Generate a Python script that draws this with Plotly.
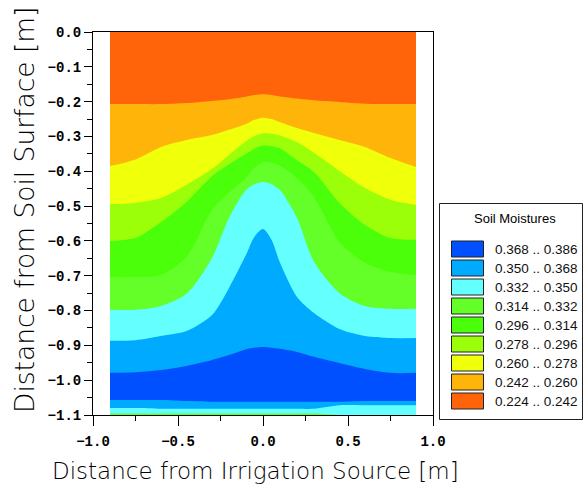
import plotly.graph_objects as go

# ---- data ----
XS = [-0.9, -0.75, -0.6, -0.45, -0.3, -0.2, -0.1, -0.05, 0.0, 0.05, 0.1, 0.2, 0.3, 0.45, 0.6, 0.75, 0.9]
B_242 = [-0.207, -0.207, -0.207, -0.204, -0.198, -0.193, -0.186, -0.181, -0.179, -0.181, -0.185, -0.191, -0.196, -0.201, -0.206, -0.207, -0.207]
B_260 = [-0.385, -0.366, -0.330, -0.310, -0.296, -0.281, -0.264, -0.252, -0.246, -0.250, -0.259, -0.276, -0.290, -0.310, -0.330, -0.362, -0.388]
B_278 = [-0.494, -0.491, -0.477, -0.439, -0.393, -0.353, -0.314, -0.299, -0.291, -0.292, -0.297, -0.316, -0.347, -0.399, -0.448, -0.482, -0.497]
B_296 = [-0.600, -0.592, -0.546, -0.488, -0.414, -0.380, -0.350, -0.335, -0.326, -0.328, -0.334, -0.368, -0.402, -0.491, -0.554, -0.592, -0.597]
B_314 = [-0.704, -0.704, -0.698, -0.646, -0.511, -0.462, -0.419, -0.390, -0.374, -0.376, -0.384, -0.419, -0.474, -0.603, -0.663, -0.689, -0.698]
B_332 = [-0.798, -0.798, -0.787, -0.752, -0.649, -0.534, -0.454, -0.437, -0.431, -0.437, -0.454, -0.534, -0.660, -0.750, -0.787, -0.795, -0.795]
B_350 = [-0.887, -0.885, -0.873, -0.859, -0.813, -0.735, -0.640, -0.588, -0.566, -0.597, -0.663, -0.761, -0.807, -0.853, -0.873, -0.879, -0.879]
B_368 = [-0.979, -0.977, -0.971, -0.959, -0.942, -0.928, -0.911, -0.907, -0.905, -0.907, -0.910, -0.919, -0.933, -0.951, -0.968, -0.979, -0.979]
B_368_LOW = [-1.057, -1.057, -1.057, -1.060, -1.062, -1.062, -1.062, -1.062, -1.062, -1.062, -1.062, -1.062, -1.062, -1.062, -1.060, -1.060, -1.060]
B_350_LOW = [-1.080, -1.080, -1.082, -1.082, -1.082, -1.082, -1.082, -1.082, -1.082, -1.082, -1.082, -1.082, -1.082, -1.072, -1.072, -1.072, -1.072]
B_332_LOW = [-1.096, -1.096, -1.096, -1.096, -1.096, -1.096, -1.096, -1.096, -1.096, -1.096, -1.096, -1.096, -1.096, -1.100, -1.100, -1.100, -1.100]
BOTTOM = [-1.1] * 17

LEVELS = [0.224, 0.242, 0.260, 0.278, 0.296, 0.314, 0.332, 0.350, 0.368, 0.386]
COLORS = ["#FF640A", "#FFB40A", "#F0FF0A", "#9BFF0A", "#4BFF0A", "#64FF28", "#64FFFF", "#00AAFF", "#0050FF"]

# layers drawn from the deepest up: (lower boundary, class index); each fills up to the surface
LAYERS = [(BOTTOM, 5), (B_332_LOW, 6), (B_350_LOW, 7), (B_368_LOW, 8), (B_368, 7), (B_350, 6),
          (B_332, 5), (B_314, 4), (B_296, 3), (B_278, 2), (B_260, 1), (B_242, 0)]

X_TICKS = [-1.0, -0.5, 0.0, 0.5, 1.0]
X_TICKTEXT = ["\u22121.0", "\u22120.5", "0.0", "0.5", "1.0"]
Y_TICKS = [0.0, -0.1, -0.2, -0.3, -0.4, -0.5, -0.6, -0.7, -0.8, -0.9, -1.0, -1.1]
Y_TICKTEXT = ["0.0", "\u22120.1", "\u22120.2", "\u22120.3", "\u22120.4", "\u22120.5", "\u22120.6",
              "\u22120.7", "\u22120.8", "\u22120.9", "\u22121.0", "\u22121.1"]

W, H = 583, 488
ML, MR, MT, MB = 93, 150, 32, 73
PW, PH = W - ML - MR, H - MT - MB


def px2x(px):
    return (px - ML) / PW


def py2y(py):
    return (H - MB - py) / PH


fig = go.Figure()
for lower, k in LAYERS:
    fig.add_trace(go.Scatter(
        x=XS, y=lower, mode="lines", fill="tozeroy", fillcolor=COLORS[k],
        line=dict(width=0, color=COLORS[k], shape="spline", smoothing=0.8),
        hoverinfo="skip", showlegend=False))

shapes = []
annotations = []
# legend box
shapes.append(dict(type="rect", xref="paper", yref="paper",
                   x0=px2x(439.5), x1=px2x(582.5), y0=py2y(419.5), y1=py2y(203.5),
                   line=dict(color="#222222", width=1), fillcolor="white", layer="above"))
annotations.append(dict(text="Soil Moistures", xref="paper", yref="paper",
                        x=px2x(515), y=py2y(218), xanchor="center", yanchor="middle",
                        showarrow=False, font=dict(family="Liberation Sans", size=13, color="black")))
for i, k in enumerate(range(len(COLORS) - 1, -1, -1)):
    cy = 249 + 19 * i
    shapes.append(dict(type="rect", xref="paper", yref="paper",
                       x0=px2x(451.5), x1=px2x(483.5), y0=py2y(cy + 8), y1=py2y(cy - 8),
                       line=dict(color="#222222", width=1), fillcolor=COLORS[k], layer="above"))
    annotations.append(dict(text=f"{LEVELS[k]:.3f} .. {LEVELS[k + 1]:.3f}", xref="paper", yref="paper",
                            x=px2x(493), y=py2y(cy), xanchor="left", yanchor="middle",
                            showarrow=False, font=dict(family="Liberation Sans", size=13.5, color="#111111")))

# axis titles
annotations.append(dict(text="Distance from Irrigation Source [m]", xref="paper", yref="paper",
                        x=px2x(255), y=py2y(471), xanchor="center", yanchor="middle", showarrow=False,
                        font=dict(family="DejaVu Sans", size=23, color="black", weight=200)))
annotations.append(dict(text="Distance from Soil Surface [m]", xref="paper", yref="paper",
                        x=px2x(24), y=py2y(210), xanchor="center", yanchor="middle", showarrow=False,
                        textangle=-90,
                        font=dict(family="DejaVu Sans", size=26.5, color="black", weight=200)))

tickfont = dict(family="Liberation Mono", size=14, color="black", weight="bold")
fig.update_layout(
    width=W, height=H, autosize=False,
    margin=dict(l=ML, r=MR, t=MT, b=MB, pad=0),
    paper_bgcolor="white", plot_bgcolor="white",
    showlegend=False,
    shapes=shapes, annotations=annotations,
    xaxis=dict(range=[-1.0, 1.0], tickvals=X_TICKS, ticktext=X_TICKTEXT, ticks="outside",
               ticklen=10, tickwidth=1, tickcolor="black", showline=True, linecolor="black",
               linewidth=1, mirror=True, showgrid=False, zeroline=False, tickfont=tickfont,
               ticklabelstandoff=3,
               minor=dict(tickvals=[-0.75, -0.25, 0.25, 0.75], ticks="outside", ticklen=5,
                          tickcolor="black", tickwidth=1, showgrid=False)),
    yaxis=dict(range=[-1.1, 0.0], tickvals=Y_TICKS, ticktext=Y_TICKTEXT, ticks="outside",
               ticklen=8, tickwidth=1, tickcolor="black", showline=True, linecolor="black",
               linewidth=1, mirror=True, showgrid=False, zeroline=False, tickfont=tickfont,
               minor=dict(tickvals=[-0.05, -0.15, -0.25, -0.35, -0.45, -0.55, -0.65, -0.75,
                                    -0.85, -0.95, -1.05], ticks="outside", ticklen=5,
                          tickcolor="black", tickwidth=1, showgrid=False)),
)

fig.write_html("out.html")
